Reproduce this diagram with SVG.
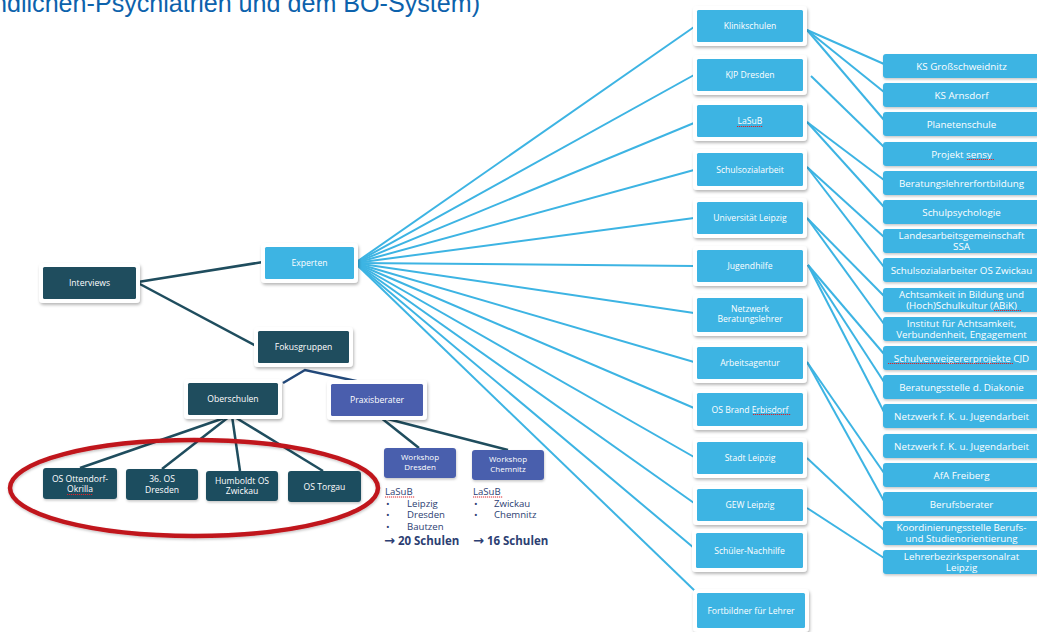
<svg xmlns="http://www.w3.org/2000/svg" width="1037" height="632" viewBox="0 0 1037 632">
<defs>
<filter id="sh" x="-20%" y="-30%" width="140%" height="170%"><feDropShadow dx="1" dy="2" stdDeviation="1.6" flood-color="#000" flood-opacity="0.28"/></filter>
<filter id="sh2" x="-20%" y="-30%" width="140%" height="170%"><feDropShadow dx="0.5" dy="1.5" stdDeviation="1" flood-color="#000" flood-opacity="0.22"/></filter>
<style>
.frame{fill:#fff;filter:url(#sh)}
.dark{fill:#1F4D5E}
.blue{fill:#3DB4E3}
.purple{fill:#4A5EAD}
.t{font-family:"Open Sans","Noto Sans",sans-serif;fill:#fff;text-anchor:middle}
.s8{font-size:8.6px}
.s85{font-size:8.6px}
.sw{font-size:8px}
.s10{font-size:9.8px}
.lst{font-family:"Open Sans","Noto Sans",sans-serif;fill:#2C3E72;font-size:9.6px}
.big{font-family:"Open Sans","Noto Sans",sans-serif;fill:#2C3E72;font-size:11.5px;font-weight:bold}
.arr{font-family:"DejaVu Sans",sans-serif;font-size:13px;font-weight:bold}
.cd{stroke:#1F4D5E;stroke-width:2.5;fill:none}
.cb{stroke:#3DB4E3;stroke-width:2;fill:none}
.sp{stroke:#D9262C;stroke-width:1;stroke-dasharray:1.2 0.8;fill:none}
</style>
</defs>
<rect width="1037" height="632" fill="#fff"/>
<text x="-7" y="12" font-family="Liberation Sans, Arial, sans-serif" font-size="25" fill="#0C62AC" textLength="487" lengthAdjust="spacingAndGlyphs">ndlichen-Psychiatrien und dem BO-System)</text>

<g id="connectors">
<line class="cd" x1="138" y1="282" x2="263" y2="262"/>
<line class="cd" x1="138" y1="283" x2="256" y2="346"/>
<polyline points="283,383 305,370 370,384" fill="none" stroke="#22497A" stroke-width="2.5"/>
<line class="cd" x1="230" y1="416" x2="80" y2="468"/>
<line class="cd" x1="230" y1="416" x2="162" y2="469"/>
<line class="cd" x1="232" y1="416" x2="240" y2="471"/>
<line class="cd" x1="233" y1="416" x2="323" y2="471"/>
<line class="cd" x1="380" y1="417" x2="419" y2="448"/>
<line class="cd" x1="380" y1="417" x2="508" y2="450"/>
<g class="cb">
<line x1="355" y1="263" x2="694" y2="27"/>
<line x1="355" y1="263" x2="694" y2="75"/>
<line x1="355" y1="263" x2="694" y2="123"/>
<line x1="355" y1="263" x2="694" y2="170"/>
<line x1="355" y1="263" x2="694" y2="218"/>
<line x1="355" y1="263" x2="694" y2="266"/>
<line x1="355" y1="263" x2="694" y2="313"/>
<line x1="355" y1="263" x2="694" y2="362"/>
<line x1="355" y1="263" x2="694" y2="408"/>
<line x1="355" y1="263" x2="694" y2="457"/>
<line x1="355" y1="263" x2="694" y2="503"/>
<line x1="355" y1="263" x2="694" y2="548"/>
<line x1="355" y1="263" x2="695" y2="591"/>
<line x1="807" y1="30" x2="884" y2="64"/>
<line x1="807" y1="30" x2="884" y2="92"/>
<line x1="807" y1="30" x2="884" y2="120"/>
<line x1="811" y1="76" x2="884" y2="147"/>
<line x1="807" y1="122" x2="884" y2="180"/>
<line x1="807" y1="122" x2="884" y2="207"/>
<line x1="807" y1="167" x2="884" y2="237"/>
<line x1="807" y1="167" x2="884" y2="267"/>
<line x1="807" y1="218" x2="884" y2="296"/>
<line x1="807" y1="218" x2="884" y2="324"/>
<line x1="808" y1="265" x2="884" y2="354"/>
<line x1="808" y1="265" x2="884" y2="382"/>
<line x1="808" y1="265" x2="884" y2="412"/>
<line x1="807" y1="362" x2="884" y2="473"/>
<line x1="807" y1="362" x2="884" y2="501"/>
<line x1="807" y1="458" x2="884" y2="530"/>
<line x1="807" y1="508" x2="884" y2="558"/>
</g>
</g>

<ellipse cx="194" cy="488" rx="184" ry="48" fill="none" stroke="#C0141C" stroke-width="4.5" filter="url(#sh2)"/>

<g id="interviews"><rect class="frame" x="39" y="263" width="101" height="40" rx="4"/><rect class="dark" x="43" y="267" width="93" height="32" rx="1.5"/><text class="t s8" x="89.5" y="286">Interviews</text></g>
<g id="experten"><rect class="frame" x="261" y="243" width="97" height="40" rx="4"/><rect class="blue" x="265" y="247" width="89" height="32" rx="1.5"/><text class="t s8" x="309.5" y="266">Experten</text></g>
<g id="fokusgruppen"><rect class="frame" x="254" y="327" width="99" height="40" rx="4"/><rect class="dark" x="258" y="331" width="91" height="32" rx="1.5"/><text class="t s8" x="303.5" y="350">Fokusgruppen</text></g>
<g id="oberschulen"><rect class="frame" x="184" y="379" width="98" height="40" rx="4"/><rect class="dark" x="188" y="383" width="90" height="32" rx="1.5"/><text class="t s8" x="233" y="402">Oberschulen</text></g>
<g id="praxisberater"><rect class="frame" x="327" y="380" width="100" height="40" rx="4"/><rect class="purple" x="331" y="384" width="92" height="32" rx="1.5"/><text class="t s8" x="377" y="403">Praxisberater</text></g>

<g id="os-ottendorf"><rect class="dark" x="43" y="468" width="74" height="31" rx="3" filter="url(#sh2)"/><text class="t s85" x="80" y="482">OS Ottendorf-</text><text class="t s85" x="80" y="492">Okrilla</text><path class="sp" d="M67,494.5 H93"/></g>
<g id="os-36"><rect class="dark" x="126" y="469" width="72" height="31" rx="3" filter="url(#sh2)"/><text class="t s85" x="162" y="482">36. OS</text><text class="t s85" x="162" y="493">Dresden</text></g>
<g id="os-humboldt"><rect class="dark" x="206" y="471" width="72" height="30" rx="3" filter="url(#sh2)"/><text class="t s85" x="242" y="484">Humboldt OS</text><text class="t s85" x="242" y="494">Zwickau</text></g>
<g id="os-torgau"><rect class="dark" x="288" y="471" width="73" height="31" rx="3" filter="url(#sh2)"/><text class="t s85" x="324.5" y="489.5">OS Torgau</text></g>

<g id="ws-dresden"><rect class="purple" x="384" y="448" width="72" height="30" rx="3" filter="url(#sh2)"/><text class="t sw" x="420" y="459.5">Workshop</text><text class="t sw" x="420" y="470">Dresden</text></g>
<g id="ws-chemnitz"><rect class="purple" x="472" y="450" width="72" height="30" rx="3" filter="url(#sh2)"/><text class="t sw" x="508" y="461.5">Workshop</text><text class="t sw" x="508" y="472">Chemnitz</text></g>

<g id="list-dresden">
<text class="lst" x="385" y="495">LaSuB</text><path class="sp" d="M385,497 H415"/>
<text class="lst" x="386" y="506.5">•</text><text class="lst" x="407" y="506.5">Leipzig</text>
<text class="lst" x="386" y="518">•</text><text class="lst" x="407" y="518">Dresden</text>
<text class="lst" x="386" y="529.5">•</text><text class="lst" x="407" y="529.5">Bautzen</text>
<text class="big" x="384" y="545"><tspan class="arr">→</tspan> 20 Schulen</text>
</g>
<g id="list-chemnitz">
<text class="lst" x="473" y="495">LaSuB</text><path class="sp" d="M473,497 H503"/>
<text class="lst" x="474" y="506.5">•</text><text class="lst" x="494" y="506.5">Zwickau</text>
<text class="lst" x="474" y="518">•</text><text class="lst" x="494" y="518">Chemnitz</text>
<text class="big" x="473" y="545"><tspan class="arr">→</tspan> 16 Schulen</text>
</g>

<g id="m-klinikschulen"><rect class="frame" x="693" y="6" width="114" height="40" rx="4"/><rect class="blue" x="697" y="10" width="106" height="32" rx="1.5"/><text class="t s8" x="750" y="29">Klinikschulen</text></g>
<g id="m-kjp"><rect class="frame" x="693" y="55" width="114" height="40" rx="4"/><rect class="blue" x="697" y="59" width="106" height="32" rx="1.5"/><text class="t s8" x="750" y="78">KJP Dresden</text></g>
<g id="m-lasub"><rect class="frame" x="693" y="101" width="114" height="40" rx="4"/><rect class="blue" x="697" y="105" width="106" height="32" rx="1.5"/><text class="t s8" x="750" y="124">LaSuB</text><path class="sp" d="M737,126.5 H763"/></g>
<g id="m-schulsozialarbeit"><rect class="frame" x="693" y="149" width="114" height="41" rx="4"/><rect class="blue" x="697" y="153" width="106" height="33" rx="1.5"/><text class="t s8" x="750" y="172.5">Schulsozialarbeit</text></g>
<g id="m-uni"><rect class="frame" x="693" y="198" width="114" height="40" rx="4"/><rect class="blue" x="697" y="202" width="106" height="32" rx="1.5"/><text class="t s8" x="750" y="221">Universität Leipzig</text></g>
<g id="m-jugendhilfe"><rect class="frame" x="693" y="246" width="114" height="40" rx="4"/><rect class="blue" x="697" y="250" width="106" height="32" rx="1.5"/><text class="t s8" x="750" y="269">Jugendhilfe</text></g>
<g id="m-netzwerk"><rect class="frame" x="693" y="294" width="114" height="42" rx="4"/><rect class="blue" x="697" y="298" width="106" height="34" rx="1.5"/><text class="t s8" x="750" y="312">Netzwerk</text><text class="t s8" x="750" y="322">Beratungslehrer</text></g>
<g id="m-arbeitsagentur"><rect class="frame" x="693" y="343" width="114" height="40" rx="4"/><rect class="blue" x="697" y="347" width="106" height="32" rx="1.5"/><text class="t s8" x="750" y="366">Arbeitsagentur</text></g>
<g id="m-osbrand"><rect class="frame" x="693" y="389" width="114" height="41" rx="4"/><rect class="blue" x="697" y="393" width="106" height="33" rx="1.5"/><text class="t s8" x="750" y="412.5">OS Brand Erbisdorf</text><path class="sp" d="M753,414.5 H791"/></g>
<g id="m-stadt"><rect class="frame" x="693" y="438" width="114" height="40" rx="4"/><rect class="blue" x="697" y="442" width="106" height="32" rx="1.5"/><text class="t s8" x="750" y="461">Stadt Leipzig</text></g>
<g id="m-gew"><rect class="frame" x="693" y="485" width="114" height="40" rx="4"/><rect class="blue" x="697" y="489" width="106" height="32" rx="1.5"/><text class="t s8" x="750" y="508">GEW Leipzig</text></g>
<g id="m-nachhilfe"><rect class="frame" x="692" y="529" width="115" height="43" rx="4"/><rect class="blue" x="696" y="533" width="107" height="35" rx="1.5"/><text class="t s8" x="749.5" y="553.5">Schüler-Nachhilfe</text></g>
<g id="m-fortbildner"><rect class="frame" x="693" y="589" width="116" height="43" rx="4"/><rect class="blue" x="697" y="593" width="108" height="35" rx="1.5"/><text class="t s8" x="751" y="613.5">Fortbildner für Lehrer</text></g>

<g id="r-ks-gross"><rect class="blue" x="883" y="54" width="157" height="24" rx="3" filter="url(#sh2)"/><text class="t s10" x="961.5" y="69.5">KS Großschweidnitz</text></g>
<g id="r-ks-arnsdorf"><rect class="blue" x="883" y="83" width="157" height="24" rx="3" filter="url(#sh2)"/><text class="t s10" x="961.5" y="98.5">KS Arnsdorf</text></g>
<g id="r-planetenschule"><rect class="blue" x="883" y="112" width="157" height="24" rx="3" filter="url(#sh2)"/><text class="t s10" x="961.5" y="127.5">Planetenschule</text></g>
<g id="r-sensy"><rect class="blue" x="883" y="142" width="157" height="24" rx="3" filter="url(#sh2)"/><text class="t s10" x="961.5" y="157.5">Projekt sensy</text><path class="sp" d="M967,159.5 H994"/></g>
<g id="r-blfb"><rect class="blue" x="883" y="171" width="157" height="24" rx="3" filter="url(#sh2)"/><text class="t s10" x="961.5" y="186.5">Beratungslehrerfortbildung</text></g>
<g id="r-schulpsych"><rect class="blue" x="883" y="200" width="157" height="24" rx="3" filter="url(#sh2)"/><text class="t s10" x="961.5" y="215.5">Schulpsychologie</text></g>
<g id="r-lag"><rect class="blue" x="883" y="229" width="157" height="24" rx="3" filter="url(#sh2)"/><text class="t s10" x="961.5" y="239">Landesarbeitsgemeinschaft</text><text class="t s10" x="961.5" y="250">SSA</text></g>
<g id="r-ssa-zwickau"><rect class="blue" x="883" y="258" width="157" height="24" rx="3" filter="url(#sh2)"/><text class="t s10" x="961.5" y="273.5">Schulsozialarbeiter OS Zwickau</text></g>
<g id="r-abik"><rect class="blue" x="883" y="288" width="157" height="24" rx="3" filter="url(#sh2)"/><text class="t s10" x="961.5" y="298">Achtsamkeit in Bildung und</text><text class="t s10" x="961.5" y="309">(Hoch)Schulkultur (ABiK)</text><path class="sp" d="M994,310.5 H1021"/></g>
<g id="r-institut"><rect class="blue" x="883" y="317" width="157" height="24" rx="3" filter="url(#sh2)"/><text class="t s10" x="961.5" y="327">Institut für Achtsamkeit,</text><text class="t s10" x="961.5" y="338">Verbundenheit, Engagement</text></g>
<g id="r-cjd"><rect class="blue" x="883" y="346" width="157" height="24" rx="3" filter="url(#sh2)"/><text class="t s10" x="961.5" y="361.5">Schulverweigererprojekte CJD</text><path class="sp" d="M888,363.5 H1013"/></g>
<g id="r-diakonie"><rect class="blue" x="883" y="375" width="157" height="24" rx="3" filter="url(#sh2)"/><text class="t s10" x="961.5" y="390.5">Beratungsstelle d. Diakonie</text></g>
<g id="r-netzwerk1"><rect class="blue" x="883" y="404" width="157" height="24" rx="3" filter="url(#sh2)"/><text class="t s10" x="961.5" y="419.5">Netzwerk f. K. u. Jugendarbeit</text></g>
<g id="r-netzwerk2"><rect class="blue" x="883" y="434" width="157" height="24" rx="3" filter="url(#sh2)"/><text class="t s10" x="961.5" y="449.5">Netzwerk f. K. u. Jugendarbeit</text></g>
<g id="r-afa"><rect class="blue" x="883" y="463" width="157" height="24" rx="3" filter="url(#sh2)"/><text class="t s10" x="961.5" y="478.5">AfA Freiberg</text></g>
<g id="r-berufsberater"><rect class="blue" x="883" y="492" width="157" height="24" rx="3" filter="url(#sh2)"/><text class="t s10" x="961.5" y="507.5">Berufsberater</text></g>
<g id="r-koord"><rect class="blue" x="883" y="521" width="157" height="24" rx="3" filter="url(#sh2)"/><text class="t s10" x="961.5" y="531">Koordinierungsstelle Berufs-</text><text class="t s10" x="961.5" y="542">und Studienorientierung</text></g>
<g id="r-lbpr"><rect class="blue" x="883" y="550" width="157" height="24" rx="3" filter="url(#sh2)"/><text class="t s10" x="961.5" y="560">Lehrerbezirkspersonalrat</text><text class="t s10" x="961.5" y="571">Leipzig</text></g>
</svg>
